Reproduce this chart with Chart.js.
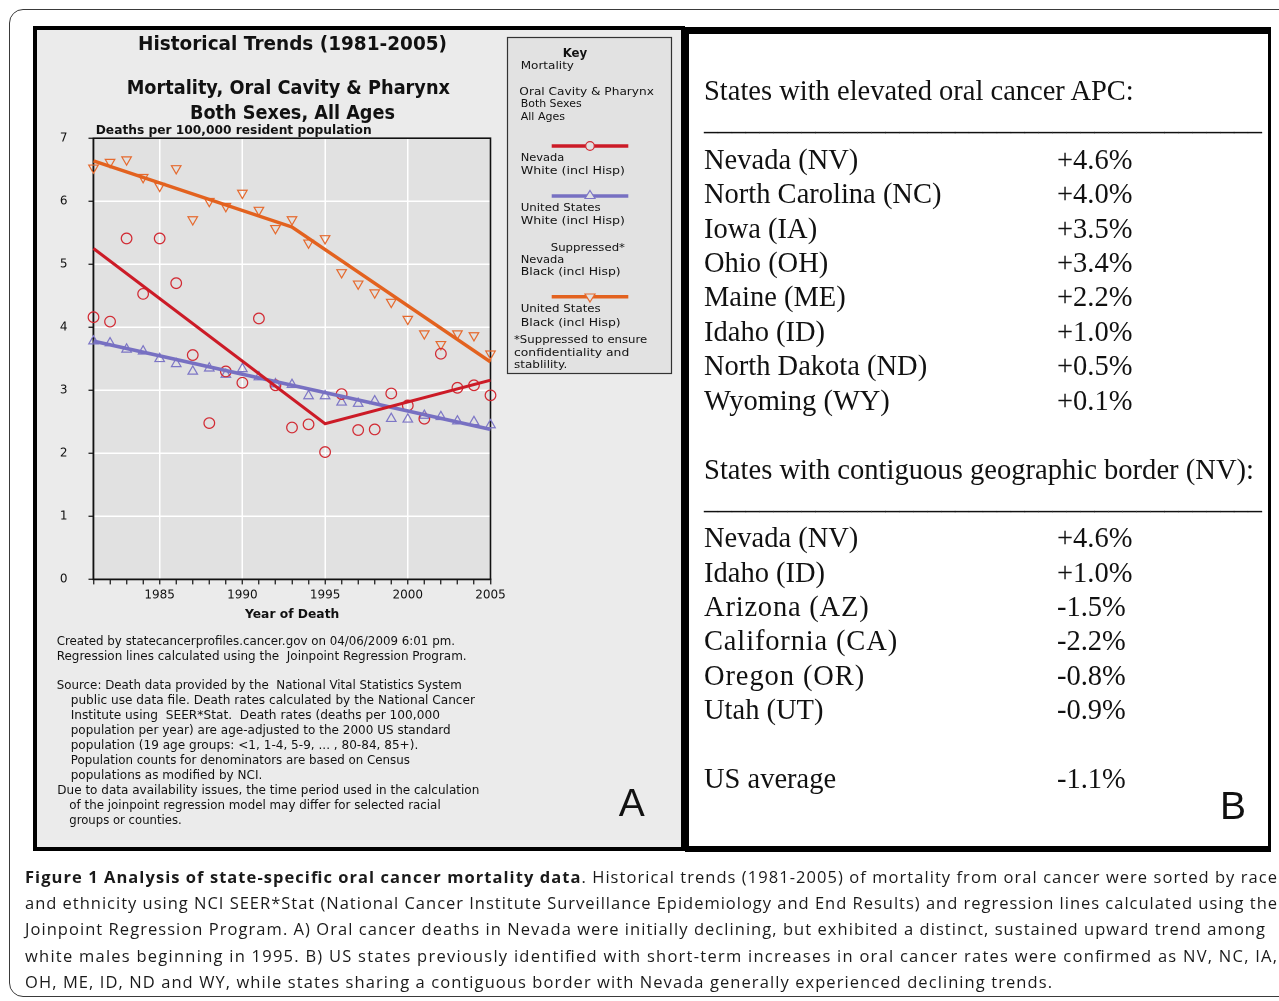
<!DOCTYPE html>
<html><head><meta charset="utf-8">
<script src="https://cdn.jsdelivr.net/npm/chart.js@4.4.1/dist/chart.umd.min.js"></script>
<style>
html,body{margin:0;padding:0;background:#fff;}
#page{position:relative;width:1279px;height:1001px;overflow:hidden;background:#fff;}
#outer{position:absolute;left:9px;top:9px;width:1330px;height:988px;border:1.5px solid #3a3a3a;border-radius:14px;box-sizing:border-box;}
#panelA{position:absolute;left:33px;top:26px;width:652px;height:825px;box-sizing:border-box;border:4px solid #000;background:#ebebeb;}
#panelB{position:absolute;left:685px;top:27px;width:586px;height:825px;box-sizing:border-box;border-style:solid;border-color:#000;border-width:7px 3px 6px 4px;background:#fff;}
#cv{position:absolute;left:40px;top:110px;width:480px;height:515px;}
#ov{position:absolute;left:0;top:0;}
</style></head>
<body>
<div id="page">
  <div id="outer"></div>
  <div id="panelA"></div>
  <div id="panelB"></div>
  <canvas id="cv" width="480" height="515"></canvas>
  <svg id="ov" width="1279" height="1001" xmlns="http://www.w3.org/2000/svg"></svg>
</div>
<script>
// ---------------- DATA ----------------
const years = [1981,1982,1983,1984,1985,1986,1987,1988,1989,1990,1991,1992,1993,1994,1995,1996,1997,1998,1999,2000,2001,2002,2003,2004,2005];
const nevadaWhite = [4.16,4.09,5.41,4.53,5.41,4.70,3.56,2.48,3.30,3.12,4.14,3.08,2.41,2.46,2.02,2.94,2.37,2.38,2.95,2.76,2.55,3.58,3.04,3.08,2.92];
const usWhite = [3.78,3.75,3.65,3.62,3.50,3.42,3.30,3.35,3.25,3.34,3.21,3.10,3.09,2.91,2.91,2.81,2.79,2.83,2.55,2.54,2.60,2.58,2.51,2.50,2.45];
const usBlack = [6.53,6.62,6.66,6.38,6.24,6.52,5.71,6.00,5.92,6.13,5.86,5.57,5.71,5.34,5.41,4.87,4.69,4.55,4.40,4.13,3.90,3.73,3.90,3.87,3.58];
const nevadaWhiteFitYears = [1981,1995,2005];
const nevadaWhiteFit = [5.25,2.47,3.16];
const usWhiteFitYears = [1981,2005];
const usWhiteFit = [3.78,2.38];
const usBlackFitYears = [1981,1993,2005];
const usBlackFit = [6.64,5.59,3.45];
const xTickLabels = [1985,1990,1995,2000,2005];
const yTicks = [0,1,2,3,4,5,6,7];

const elevatedStates = ['Nevada (NV)','North Carolina (NC)','Iowa (IA)','Ohio (OH)','Maine (ME)','Idaho (ID)','North Dakota (ND)','Wyoming (WY)'];
const elevatedAPC = ['+4.6%','+4.0%','+3.5%','+3.4%','+2.2%','+1.0%','+0.5%','+0.1%'];
const borderStates = ['Nevada (NV)','Idaho (ID)','Arizona (AZ)','California (CA)','Oregon (OR)','Utah (UT)'];
const borderAPC = ['+4.6%','+1.0%','-1.5%','-2.2%','-0.8%','-0.9%'];
const usAverageAPC = '-1.1%';

const RED='#d22a33', RED_LINE='#cc1b27', BLUE='#7d76c6', BLUE_LINE='#7770c2', ORANGE='#e66a2e', ORANGE_LINE='#e3621f';

// ---------------- CHART ----------------
const pts = (xs, ys) => xs.map((x,i)=>({x:x, y:ys[i]}));
Chart.defaults.font.family = 'DejaVu Sans';
Chart.defaults.font.size = 12;
Chart.defaults.color = '#111';

const plotFrame = {
  id:'plotFrame',
  beforeDraw(chart){
    const {ctx, chartArea:a} = chart;
    ctx.save(); ctx.fillStyle='#e1e1e1'; ctx.fillRect(a.left,a.top,a.right-a.left,a.bottom-a.top); ctx.restore();
  },
  beforeDatasetsDraw(chart){
    const {ctx, chartArea:a} = chart;
    ctx.save(); ctx.strokeStyle='#111'; ctx.lineWidth=1.6;
    ctx.strokeRect(a.left,a.top,a.right-a.left,a.bottom-a.top); ctx.restore();
  }
};

new Chart(document.getElementById('cv'), {
  type:'scatter',
  data:{ datasets:[
    {type:'line', label:'Nevada White fit', data:pts(nevadaWhiteFitYears,nevadaWhiteFit), borderColor:RED_LINE, borderWidth:3, pointRadius:0, fill:false, tension:0, order:0, clip:false},
    {type:'line', label:'US White fit', data:pts(usWhiteFitYears,usWhiteFit), borderColor:BLUE_LINE, borderWidth:3.6, pointRadius:0, fill:false, tension:0, order:0, clip:false},
    {type:'line', label:'US Black fit', data:pts(usBlackFitYears,usBlackFit), borderColor:ORANGE_LINE, borderWidth:3.4, pointRadius:0, fill:false, tension:0, order:0, clip:false},
    {label:'Nevada White (incl Hisp)', data:pts(years,nevadaWhite), pointStyle:'circle', pointRadius:5.3, borderColor:RED, backgroundColor:'rgba(0,0,0,0)', borderWidth:1.2, order:1, clip:false},
    {label:'United States White (incl Hisp)', data:pts(years,usWhite), pointStyle:'triangle', pointRadius:5.5, borderColor:BLUE, backgroundColor:'rgba(0,0,0,0)', borderWidth:1.2, order:1, clip:false},
    {label:'United States Black (incl Hisp)', data:pts(years,usBlack), pointStyle:'triangle', rotation:180, pointRadius:5.5, borderColor:ORANGE, backgroundColor:'rgba(0,0,0,0)', borderWidth:1.2, order:1, clip:false}
  ]},
  options:{
    responsive:false, animation:false, devicePixelRatio:2,
    layout:{padding:{top:12.1,right:29.5,left:0,bottom:0}},
    plugins:{legend:{display:false}, tooltip:{enabled:false}, title:{display:false}},
    scales:{
      x:{type:'linear', min:years[0], max:years[years.length-1],
        afterFit(s){ s.height = 45.6; },
        ticks:{stepSize:1, autoSkip:false, maxRotation:0, padding:4, color:'#111', font:{size:12},
          callback:(v)=> xTickLabels.includes(v) ? String(v) : ''},
        grid:{color:(c)=> (c.tick && xTickLabels.includes(c.tick.value)) ? '#ffffff' : 'rgba(0,0,0,0)',
          lineWidth:1.5, tickColor:'#111', tickLength:5, tickWidth:1.2},
        border:{color:'#111', width:1.6}
      },
      y:{type:'linear', min:yTicks[0], max:yTicks[yTicks.length-1],
        afterFit(s){ s.width = 53.5; },
        afterBuildTicks(s){ s.ticks = yTicks.map(v=>({value:v})); },
        ticks:{padding:21, color:'#111', font:{size:12}, callback:(v)=>String(v)},
        grid:{color:'#ffffff', lineWidth:1.5, tickColor:'#111', tickLength:5, tickWidth:1.2},
        border:{color:'#111', width:1.6}
      }
    }
  },
  plugins:[plotFrame]
});

// ---------------- TEXT / FRAME OVERLAY ----------------
const NS='http://www.w3.org/2000/svg';
const svg=document.getElementById('ov');
function el(name, attrs){ const e=document.createElementNS(NS,name); for(const k in attrs) e.setAttribute(k,attrs[k]); svg.appendChild(e); return e; }
function addText(str, x, y, o){
  o=o||{};
  const t=document.createElementNS(NS,'text');
  t.setAttribute('x',x); t.setAttribute('y',y);
  t.setAttribute('font-family', o.family||'DejaVu Sans');
  t.setAttribute('font-size', o.size||12.5);
  if(o.weight) t.setAttribute('font-weight',o.weight);
  if(o.anchor) t.setAttribute('text-anchor',o.anchor);
  if(o.width){ t.setAttribute('textLength',o.width); t.setAttribute('lengthAdjust',o.adjust||'spacingAndGlyphs'); }
  if(o.ls) t.setAttribute('letter-spacing',o.ls);
  t.setAttribute('fill', o.color||'#111');
  t.style.whiteSpace='pre';
  t.textContent=str;
  svg.appendChild(t);
  return t;
}

// Titles
addText('Historical Trends (1981-2005)',138,50,{size:19,weight:'bold',width:309});
addText('Mortality, Oral Cavity & Pharynx',126.7,94,{size:19,weight:'bold',width:323.3});
addText('Both Sexes, All Ages',190,118.5,{size:19,weight:'bold',width:205});
addText('Deaths per 100,000 resident population',95.7,133.5,{size:13,weight:'bold',width:276});
addText('Year of Death',245,618,{size:13,weight:'bold',width:94.3});

// Notes under chart
const notes = [
  ['Created by statecancerprofiles.cancer.gov on 04/06/2009 6:01 pm.',56.7,640,398.3],
  ['Regression lines calculated using the  Joinpoint Regression Program.',56.7,655,410],
  ['Source: Death data provided by the  National Vital Statistics System',56.7,684,405],
  ['public use data file. Death rates calculated by the National Cancer',70.7,699,404.3],
  ['Institute using  SEER*Stat.  Death rates (deaths per 100,000',70.7,714,369.3],
  ['population per year) are age-adjusted to the 2000 US standard',70.7,729,380],
  ['population (19 age groups: <1, 1-4, 5-9, ... , 80-84, 85+).',70.7,744,347.6],
  ['Population counts for denominators are based on Census',70.7,759,339.3],
  ['populations as modified by NCI.',70.7,774,191.6],
  ['Due to data availability issues, the time period used in the calculation',57.3,789.3,422],
  ['of the joinpoint regression model may differ for selected racial',69.3,804.3,371.4],
  ['groups or counties.',69.3,819.3,112.4]
];
notes.forEach(n=>addText(n[0],n[1],n[2]+4.5,{size:12.5,width:n[3]}));

// Key box
el('rect',{x:507.5,y:37.5,width:164,height:336,fill:'#e2e2e2',stroke:'#333','stroke-width':1.2});
addText('Key',562.7,56.5,{size:12,weight:'bold',width:24.6});
const keyLines = [
  ['Mortality',520.7,65,53.3],
  ['Oral Cavity & Pharynx',519.3,91,134.7],
  ['Both Sexes',520.7,102.7,61],
  ['All Ages',520.7,116,44.3],
  ['Nevada',520.7,157.3,43.7],
  ['White (incl Hisp)',520.7,170,104.3],
  ['United States',520.7,207.3,80],
  ['White (incl Hisp)',520.7,220,104.3],
  ['Suppressed*',550.7,247.3,74.3],
  ['Nevada',520.7,258.7,43.7],
  ['Black (incl Hisp)',520.7,270.7,100],
  ['United States',520.7,308.3,80],
  ['Black (incl Hisp)',520.7,321.7,100],
  ['*Suppressed to ensure',514,339.3,133.3],
  ['confidentiality and',514,351.7,115.3],
  ['stablility.',514,364.3,53.3]
];
keyLines.forEach(k=>addText(k[0],k[1],k[2]+4,{size:11.3,width:k[3]}));
// key glyphs
el('line',{x1:551.7,y1:146,x2:628.3,y2:146,stroke:RED_LINE,'stroke-width':3.4});
el('circle',{cx:590,cy:146,r:4.3,fill:'#e2e2e2',stroke:RED,'stroke-width':1.2});
el('line',{x1:551.7,y1:196,x2:628.3,y2:196,stroke:BLUE_LINE,'stroke-width':3.4});
el('polygon',{points:'590,190.5 595,198.5 585,198.5',fill:'#e2e2e2',stroke:BLUE,'stroke-width':1.2});
el('line',{x1:551.7,y1:296.7,x2:628.3,y2:296.7,stroke:ORANGE_LINE,'stroke-width':3.4});
el('polygon',{points:'590,302 595,294 585,294',fill:'#e2e2e2',stroke:ORANGE,'stroke-width':1.2});

// Panel letters
addText('A',631.7,816,{size:39,family:'Liberation Sans',anchor:'middle'});
addText('B',1233,819,{size:39,family:'Liberation Sans',anchor:'middle'});

// Panel B
const SERIF='Liberation Serif', FS=28.5;
addText('States with elevated oral cancer APC:',704,99.5,{size:FS,family:SERIF});
addText('_'.repeat(40),704,130,{size:FS,family:SERIF,width:558,adjust:'spacingAndGlyphs'});
const rowY1=[159,193,228,262,296,331,365,400];
elevatedStates.forEach((s,i)=>{
  addText(s,704,rowY1[i]+9.5,{size:FS,family:SERIF});
  addText(elevatedAPC[i],1057,rowY1[i]+9.5,{size:FS,family:SERIF});
});
addText('States with contiguous geographic border (NV):',704,478.5,{size:FS,family:SERIF,width:550});
addText('_'.repeat(40),704,509,{size:FS,family:SERIF,width:558,adjust:'spacingAndGlyphs'});
const rowY2=[537,572,606,640,675,709];
const spaced = {'Arizona (AZ)':0.8,'California (CA)':0.85,'Oregon (OR)':0.9};
borderStates.forEach((s,i)=>{
  addText(s,704,rowY2[i]+9.5,{size:FS,family:SERIF,ls:spaced[s]||0});
  addText(borderAPC[i],1057,rowY2[i]+9.5,{size:FS,family:SERIF});
});
addText('US average',704,787.5,{size:FS,family:SERIF});
addText(usAverageAPC,1057,787.5,{size:FS,family:SERIF});

// Caption
const capFont='Open Sans';
(function(){
  const t=addText('',25,883,{size:16.5,family:capFont,width:1252,adjust:'spacing',color:'#1a1a1a'});
  const b=document.createElementNS(NS,'tspan'); b.setAttribute('font-weight','bold'); b.textContent='Figure 1 Analysis of state-specific oral cancer mortality data'; t.appendChild(b);
  const r=document.createElementNS(NS,'tspan'); r.textContent='. Historical trends (1981-2005) of mortality from oral cancer were sorted by race'; t.appendChild(r);
})();
const captionLines = [
  ['and ethnicity using NCI SEER*Stat (National Cancer Institute Surveillance Epidemiology and End Results) and regression lines calculated using the',909,1252],
  ['Joinpoint Regression Program. A) Oral cancer deaths in Nevada were initially declining, but exhibited a distinct, sustained upward trend among',935,1240],
  ['white males beginning in 1995. B) US states previously identified with short-term increases in oral cancer rates were confirmed as NV, NC, IA,',961.5,1252],
  ['OH, ME, ID, ND and WY, while states sharing a contiguous border with Nevada generally experienced declining trends.',988,1027]
];
captionLines.forEach(c=>addText(c[0],25,c[1],{size:16.5,family:capFont,width:c[2],adjust:'spacing',color:'#1a1a1a'}));
</script>
</body></html>
